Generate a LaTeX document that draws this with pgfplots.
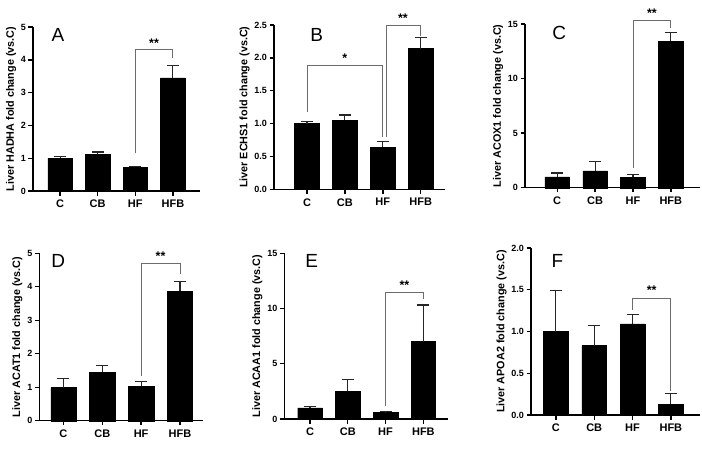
\documentclass[border=0pt]{standalone}
\usepackage{fontspec}
\setmainfont{Liberation Sans}
\usepackage{pgfplots}
\pgfplotsset{compat=1.18}
\pgfplotsset{
 panel/.style={
  scale only axis, axis lines*=left, ymin=0, clip=false,
  axis line style={line width=1.4pt, black},
  every tick/.style={black, line width=1.4pt},
  tick align=outside, major tick length=4.5pt,
  xtick={0,1,2,3}, xticklabels={C,CB,HF,HFB},
  x tick label style={font=\bfseries\fontsize{11}{12}\selectfont, yshift=-1pt},
  y tick label style={font=\bfseries\fontsize{9}{10}\selectfont, xshift=1pt},
  /pgf/number format/assume math mode=true,
  ylabel style={font=\bfseries\fontsize{10.8}{12}\selectfont, yshift=-2pt},
  anchor=south west,
 },
 bars/.style={ybar, bar width=0.65, fill=black, draw=black,
  error bars/.cd, y dir=plus, y explicit, error mark=|,
  error bar style={line width=1.1pt, black!85},
  error mark options={line width=1.1pt, mark size=6pt, black!85}},
}
\tikzset{
 bracket/.style={draw=gray!85!black, line width=0.9pt},
 stars/.style={font=\bfseries\fontsize{12.5}{12}\selectfont, anchor=center},
 letter/.style={font=\fontsize{19}{20}\selectfont, anchor=center},
}
\begin{document}
\begin{tikzpicture}[x=1pt,y=1pt]
\useasboundingbox (0,0) rectangle (702,448);
% A
\begin{axis}[panel, at={(33pt,257pt)}, width=167pt, height=164pt,
  xmin=-0.72, xmax=3.72, ymax=5, ytick={0,1,2,3,4,5},
  ylabel={Liver HADHA fold change (vs.C)}]
\addplot[bars] coordinates {(0,1.00) +- (0,0.06) (1,1.12) +- (0,0.07) (2,0.73) +- (0,0.03) (3,3.45) +- (0,0.37)};
\draw[bracket] (axis cs:2,1.15) -- (axis cs:2,4.31) -- (axis cs:3,4.31) -- (axis cs:3,4.04);
\node[stars] at (axis cs:2.5,4.52) {**};
\node[letter] at (rel axis cs:0.15,0.95) {A};
\end{axis}
% B
\begin{axis}[panel, at={(274pt,258.7pt)}, width=171pt, height=164.3pt,
  xmin=-0.87, xmax=3.64, ymax=2.5, ytick={0,0.5,1,1.5,2,2.5},
  yticklabel style={/pgf/number format/.cd, fixed, zerofill, precision=1},
  ylabel={Liver ECHS1 fold change (vs.C)}]
\addplot[bars] coordinates {(0,1.00) +- (0,0.03) (1,1.05) +- (0,0.08) (2,0.64) +- (0,0.09) (3,2.14) +- (0,0.17)};
\draw[bracket] (axis cs:0,1.18) -- (axis cs:0,1.88) -- (axis cs:2,1.88) -- (axis cs:2,0.80);
\node[stars] at (axis cs:1,2.0) {*};
\draw[bracket] (axis cs:2.1,0.80) -- (axis cs:2.1,2.5) -- (axis cs:3,2.5) -- (axis cs:3,2.33);
\node[stars] at (axis cs:2.53,2.61) {**};
\node[letter] at (rel axis cs:0.25,0.94) {B};
\end{axis}
% C
\begin{axis}[panel, at={(525pt,260.3pt)}, width=175pt, height=163.7pt,
  xmin=-0.85, xmax=3.77, ymax=15, ytick={0,5,10,15},
  ylabel={Liver ACOX1 fold change (vs.C)}]
\addplot[bars] coordinates {(0,1.0) +- (0,0.35) (1,1.55) +- (0,0.85) (2,0.95) +- (0,0.30) (3,13.4) +- (0,0.82)};
\draw[bracket] (axis cs:2,1.77) -- (axis cs:2,15.37) -- (axis cs:3,15.37) -- (axis cs:3,14.6);
\node[stars] at (axis cs:2.5,16.0) {**};
\node[letter] at (rel axis cs:0.196,0.943) {C};
\end{axis}
% D
\begin{axis}[panel, at={(39.3pt,27.3pt)}, width=164pt, height=167.4pt,
  xmin=-0.62, xmax=3.6, ymax=5, ytick={0,1,2,3,4,5},
  ylabel={Liver ACAT1 fold change (vs.C)}]
\addplot[bars] coordinates {(0,0.99) +- (0,0.26) (1,1.45) +- (0,0.21) (2,1.03) +- (0,0.15) (3,3.87) +- (0,0.30)};
\draw[bracket] (axis cs:2,1.34) -- (axis cs:2,4.70) -- (axis cs:3,4.70) -- (axis cs:3,4.38);
\node[stars] at (axis cs:2.5,4.91) {**};
\node[letter] at (rel axis cs:0.116,0.956) {D};
\end{axis}
% E
\begin{axis}[panel, at={(284.3pt,29pt)}, width=164pt, height=165.7pt,
  xmin=-0.68, xmax=3.66, ymax=15, ytick={0,5,10,15},
  ylabel={Liver ACAA1 fold change (vs.C)}]
\addplot[bars] coordinates {(0,1.0) +- (0,0.12) (1,2.5) +- (0,1.09) (2,0.6) +- (0,0.07) (3,7.0) +- (0,3.32)};
\draw[bracket] (axis cs:2,1.2) -- (axis cs:2,11.47) -- (axis cs:3,11.47) -- (axis cs:3,10.87);
\node[stars] at (axis cs:2.5,12.15) {**};
\node[letter] at (rel axis cs:0.167,0.955) {E};
\end{axis}
% F
\begin{axis}[panel, at={(531pt,33pt)}, width=169pt, height=167pt,
  xmin=-0.65, xmax=3.76, ymax=2.0, ytick={0,0.5,1,1.5,2},
  yticklabel style={/pgf/number format/.cd, fixed, zerofill, precision=1},
  ylabel={Liver APOA2 fold change (vs.C)}]
\addplot[bars] coordinates {(0,1.0) +- (0,0.49) (1,0.83) +- (0,0.24) (2,1.09) +- (0,0.11) (3,0.13) +- (0,0.13)};
\draw[bracket] (axis cs:2,1.26) -- (axis cs:2,1.39) -- (axis cs:3,1.39) -- (axis cs:3,0.29);
\node[stars] at (axis cs:2.5,1.49) {**};
\node[letter] at (rel axis cs:0.156,0.92) {F};
\end{axis}
\end{tikzpicture}
\end{document}
